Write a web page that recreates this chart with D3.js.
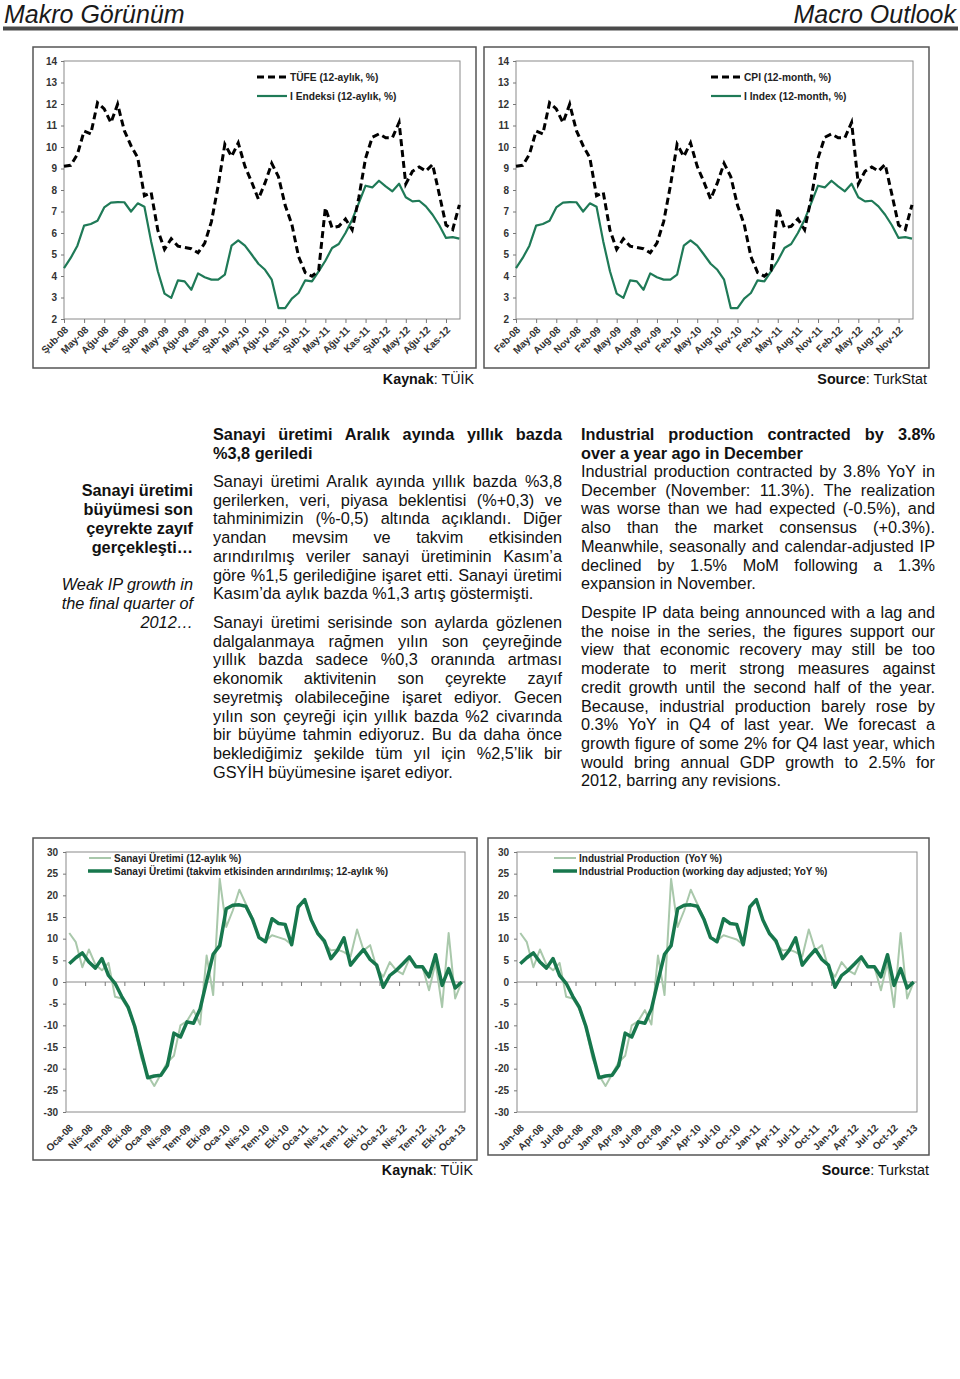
<!DOCTYPE html>
<html><head><meta charset="utf-8">
<script src="https://cdn.jsdelivr.net/npm/d3@7"></script>
<style>body{margin:0;background:#fff}svg{display:block}</style>
</head><body><svg id="c" width="960" height="1379"></svg>
<script>
// ---------- DATA ----------
// Top charts: monthly, Feb-08 .. Jan-13
const cpi = [9.10,9.15,9.66,10.74,10.61,12.06,11.77,11.13,11.99,10.76,10.06,
 9.50,7.73,7.89,6.13,5.24,5.73,5.39,5.33,5.27,5.08,5.53,6.53,
 8.19,10.13,9.56,10.19,9.10,8.37,7.58,8.33,9.24,8.62,7.29,6.40,
 4.90,4.16,3.99,4.26,7.17,6.24,6.31,6.65,6.15,7.66,9.48,10.45,
 10.61,10.43,10.43,11.14,8.28,8.87,9.07,8.88,9.19,7.80,6.37,6.16,
 7.31];
const coreI = [4.37,4.84,5.41,6.34,6.42,6.57,7.19,7.41,7.44,7.43,7.0,
 7.38,7.22,5.61,4.22,3.18,2.98,3.8,3.75,3.36,4.12,3.94,3.83,
 3.83,4.06,5.41,5.66,5.41,5.0,4.57,4.29,3.83,2.51,2.51,2.95,
 3.21,3.8,3.75,4.22,4.71,5.3,5.49,6.0,6.62,7.4,8.2,8.12,
 8.43,8.17,7.94,8.29,7.66,7.47,7.5,7.24,6.85,6.36,5.77,5.81,
 5.74];
const topYTicks = [2,3,4,5,6,7,8,9,10,11,12,13,14];
const trTopTicks = ["Şub-08","May-08","Ağu-08","Kas-08","Şub-09","May-09","Ağu-09","Kas-09","Şub-10","May-10","Ağu-10","Kas-10","Şub-11","May-11","Ağu-11","Kas-11","Şub-12","May-12","Ağu-12","Kas-12"];
const enTopTicks = ["Feb-08","May-08","Aug-08","Nov-08","Feb-09","May-09","Aug-09","Nov-09","Feb-10","May-10","Aug-10","Nov-10","Feb-11","May-11","Aug-11","Nov-11","Feb-12","May-12","Aug-12","Nov-12"];

// Bottom charts: monthly, Jan-08 .. Jan-13
const ipRaw = [11.3,9.2,3.4,7.5,4.0,2.7,4.4,-3.4,-3.8,-6.2,-10.5,-17.5,
 -21.5,-24.0,-21.3,-18.5,-17.0,-10.0,-9.0,-6.5,-9.8,6.1,-3.0,23.8,
 12.7,16.5,21.3,18.0,14.8,10.0,9.5,10.8,10.3,9.8,8.6,17.3,
 19.0,14.3,11.2,8.9,7.3,7.5,6.9,5.9,12.1,7.3,8.5,3.2,
 1.2,4.6,2.7,1.8,5.4,3.5,3.5,-1.9,4.5,-5.8,11.3,-3.8,
 0];
const ipAdj = [4.2,5.6,6.7,4.6,3.2,5.4,1.5,-0.3,-3.3,-5.8,-10.2,-16.2,
 -22.1,-21.7,-21.5,-19.3,-11.8,-12.7,-9.2,-9.5,-6.2,0.2,6.4,8.4,
 16.9,17.7,17.8,17.5,14.5,10.3,9.3,14.6,13.5,13.3,8.6,17.3,
 19.0,14.3,11.2,9.5,5.4,7.3,10.2,3.9,5.8,7.5,5.2,3.9,
 -1.2,1.5,2.7,4.2,5.8,3.5,3.5,1.2,6.3,-0.8,3.1,-1.4,
 0];
const botYTicks = [-30,-25,-20,-15,-10,-5,0,5,10,15,20,25,30];
const trBotTicks = ["Oca-08","Nis-08","Tem-08","Eki-08","Oca-09","Nis-09","Tem-09","Eki-09","Oca-10","Nis-10","Tem-10","Eki-10","Oca-11","Nis-11","Tem-11","Eki-11","Oca-12","Nis-12","Tem-12","Eki-12","Oca-13"];
const enBotTicks = ["Jan-08","Apr-08","Jul-08","Oct-08","Jan-09","Apr-09","Jul-09","Oct-09","Jan-10","Apr-10","Jul-10","Oct-10","Jan-11","Apr-11","Jul-11","Oct-11","Jan-12","Apr-12","Jul-12","Oct-12","Jan-13"];

// Texts
const sideTR = ["Sanayi üretimi","büyümesi son","çeyrekte zayıf","gerçekleşti…"];
const sideEN = ["Weak IP growth in","the final quarter of","2012…"];
const trHead = ["Sanayi üretimi Aralık ayında yıllık bazda","%3,8 geriledi"];
const trPara1 = ["Sanayi üretimi Aralık ayında yıllık bazda %3,8","gerilerken, veri, piyasa beklentisi (%+0,3) ve","tahminimizin (%-0,5) altında açıklandı. Diğer","yandan mevsim ve takvim etkisinden","arındırılmış veriler sanayi üretiminin Kasım’a","göre %1,5 gerilediğine işaret etti. Sanayi üretimi","Kasım’da aylık bazda %1,3 artış göstermişti."];
const trPara2 = ["Sanayi üretimi serisinde son aylarda gözlenen","dalgalanmaya rağmen yılın son çeyreğinde","yıllık bazda sadece %0,3 oranında artması","ekonomik aktivitenin son çeyrekte zayıf","seyretmiş olabileceğine işaret ediyor. Gecen","yılın son çeyreği için yıllık bazda %2 civarında","bir büyüme tahmin ediyoruz. Bu da daha önce","beklediğimiz şekilde tüm yıl için %2,5’lik bir","GSYİH büyümesine işaret ediyor."];
const enHead = ["Industrial production contracted by 3.8%","over a year ago in December"];
const enPara1 = ["Industrial production contracted by 3.8% YoY in","December (November: 11.3%). The realization","was worse than we had expected (-0.5%), and","also than the market consensus (+0.3%).","Meanwhile, seasonally and calendar-adjusted IP","declined by 1.5% MoM following a 1.3%","expansion in November."];
const enPara2 = ["Despite IP data being announced with a lag and","the noise in the series, the figures support our","view that economic recovery may still be too","moderate to merit strong measures against","credit growth until the second half of the year.","Because, industrial production barely rose by","0.3% YoY in Q4 of last year. We forecast a","growth figure of some 2% for Q4 last year, which","would bring annual GDP growth to 2.5% for","2012, barring any revisions."];

// ---------- DRAWING ----------
const FONT = "'Liberation Sans', Arial, Helvetica, sans-serif";
const svg = d3.select("#c").style("font-family", FONT);
svg.append("rect").attr("width",960).attr("height",1379).attr("fill","#fff");

// Header
svg.append("text").attr("x",4).attr("y",23).attr("font-size",25).attr("font-style","italic").attr("fill","#1a1a1a").text("Makro Görünüm");
svg.append("text").attr("x",956).attr("y",23).attr("text-anchor","end").attr("font-size",25).attr("font-style","italic").attr("fill","#1a1a1a").text("Macro Outlook");
svg.append("rect").attr("x",3).attr("y",26.5).attr("width",955).attr("height",4).attr("fill","#4a4a4a");

const DARK = "#17774d", LIGHT = "#a9c8ab", TOPGREEN = "#1f7a57";
const fmt = d => String(d);

function styleAxis(sel, size){
  sel.select(".domain").remove();
  sel.selectAll(".tick line").attr("stroke","#777");
  sel.selectAll(".tick text").attr("font-family",FONT).attr("font-size",size).attr("font-weight","bold").attr("fill","#333");
}

function topChart(o){
  const g = svg.append("g");
  g.append("rect").attr("x",o.box[0]).attr("y",o.box[1]).attr("width",o.box[2]-o.box[0]).attr("height",o.box[3]-o.box[1])
    .attr("fill","none").attr("stroke","#555").attr("stroke-width",1.5);
  const x = d3.scaleLinear().domain([0,cpi.length-1]).range([o.px0,o.px1]);
  const y = d3.scaleLinear().domain([2,14]).range([319,61]);
  g.append("rect").attr("x",o.px0).attr("y",61).attr("width",o.pr-o.px0).attr("height",258)
    .attr("fill","none").attr("stroke","#8a8a8a").attr("stroke-width",1);
  const ya = g.append("g").attr("transform",`translate(${o.px0},0)`)
    .call(d3.axisLeft(y).tickValues(topYTicks).tickSize(3).tickPadding(4).tickFormat(fmt));
  styleAxis(ya,10);
  const xa = g.append("g").attr("transform",`translate(0,319)`)
    .call(d3.axisBottom(x).tickValues(d3.range(0,cpi.length,3)).tickSize(4).tickFormat((d,i)=>o.labels[i]));
  styleAxis(xa,10);
  xa.selectAll(".tick text").attr("x",0).attr("y",0).attr("dy","0.35em").attr("text-anchor","end")
    .attr("transform","translate(2,9) rotate(-45)");
  const line = d3.line().x((d,i)=>x(i)).y(d=>y(d));
  g.append("path").datum(o.core).attr("d",line).attr("fill","none").attr("stroke",TOPGREEN).attr("stroke-width",2.2).attr("stroke-linejoin","round");
  g.append("path").datum(o.cpi).attr("d",line).attr("fill","none").attr("stroke","#000").attr("stroke-width",3).attr("stroke-dasharray","7,4");
  // legend
  g.append("line").attr("x1",o.lx).attr("x2",o.lx+29).attr("y1",77).attr("y2",77).attr("stroke","#000").attr("stroke-width",3).attr("stroke-dasharray","7,4");
  g.append("line").attr("x1",o.lx).attr("x2",o.lx+30).attr("y1",96).attr("y2",96).attr("stroke",TOPGREEN).attr("stroke-width",2.2);
  g.append("text").attr("x",o.lx+33).attr("y",80.5).attr("font-size",10.2).attr("font-weight","bold").attr("fill","#222").text(o.leg[0]);
  g.append("text").attr("x",o.lx+33).attr("y",99.5).attr("font-size",10.2).attr("font-weight","bold").attr("fill","#222").text(o.leg[1]);
  // source
  const s = g.append("text").attr("x",o.src[0]).attr("y",o.src[1]).attr("text-anchor","end").attr("font-size",14.3).attr("fill","#111");
  s.append("tspan").attr("font-weight","bold").text(o.srcLabel[0]);
  s.append("tspan").text(o.srcLabel[1]);
}

topChart({box:[33,47,476,368], px0:64, px1:459.4, pr:460, labels:trTopTicks, cpi:cpi, core:coreI,
  lx:257, leg:["TÜFE (12-aylık, %)","I Endeksi (12-aylık, %)"], src:[474,384], srcLabel:["Kaynak",": TÜİK"]});
topChart({box:[484,47,929,368], px0:516, px1:912, pr:913, labels:enTopTicks, cpi:cpi, core:coreI,
  lx:711, leg:["CPI (12-month, %)","I Index (12-month, %)"], src:[927,384], srcLabel:["Source",": TurkStat"]});

function botChart(o){
  const g = svg.append("g");
  g.append("rect").attr("x",o.box[0]).attr("y",o.box[1]).attr("width",o.box[2]-o.box[0]).attr("height",o.box[3]-o.box[1])
    .attr("fill","none").attr("stroke","#555").attr("stroke-width",1.5);
  const x = d3.scalePoint().domain(d3.range(ipAdj.length)).range([o.px0,o.px1]).padding(0.5);
  const step = x.step();
  const y = d3.scaleLinear().domain([-30,30]).range([1112,852]);
  g.append("rect").attr("x",o.px0).attr("y",852).attr("width",o.px1-o.px0).attr("height",260)
    .attr("fill","none").attr("stroke","#8a8a8a").attr("stroke-width",1);
  const ya = g.append("g").attr("transform",`translate(${o.px0},0)`)
    .call(d3.axisLeft(y).tickValues(botYTicks).tickSize(3).tickPadding(5).tickFormat(fmt));
  styleAxis(ya,10);
  // zero line with ticks at category boundaries
  g.append("line").attr("x1",o.px0).attr("x2",o.px1).attr("y1",y(0)).attr("y2",y(0)).attr("stroke","#8a8a8a");
  const bounds = d3.range(3, ipAdj.length, 3);
  g.selectAll(".zt").data(bounds).enter().append("line")
    .attr("x1",d=>x(d)-step/2).attr("x2",d=>x(d)-step/2).attr("y1",y(0)).attr("y2",y(0)+4).attr("stroke","#777");
  // labels at bottom
  const labIdx = d3.range(0, ipAdj.length, 3);
  g.selectAll(".xl").data(labIdx).enter().append("text")
    .attr("transform",d=>`translate(${x(d)+2},${1112+14}) rotate(-45)`)
    .attr("dy","0.35em").attr("text-anchor","end").attr("font-size",10).attr("font-weight","bold").attr("fill","#333")
    .text((d,i)=>o.labels[i]);
  const line = d3.line().x((d,i)=>x(i)).y(d=>y(d));
  g.append("path").datum(ipRaw).attr("d",line).attr("fill","none").attr("stroke",LIGHT).attr("stroke-width",2).attr("stroke-linejoin","round");
  g.append("path").datum(ipAdj).attr("d",line).attr("fill","none").attr("stroke",DARK).attr("stroke-width",3.5).attr("stroke-linejoin","round");
  // legend
  g.append("line").attr("x1",o.lx).attr("x2",o.lx+22).attr("y1",858).attr("y2",858).attr("stroke",LIGHT).attr("stroke-width",2);
  g.append("line").attr("x1",o.lx-1).attr("x2",o.lx+23).attr("y1",871).attr("y2",871).attr("stroke",DARK).attr("stroke-width",3.5);
  g.append("text").attr("x",o.lx+25).attr("y",861.5).attr("font-size",10).attr("font-weight","bold").attr("fill","#222").attr("xml:space","preserve").text(o.leg[0]);
  g.append("text").attr("x",o.lx+25).attr("y",874.5).attr("font-size",10).attr("font-weight","bold").attr("fill","#222").text(o.leg[1]);
  const s = g.append("text").attr("x",o.src[0]).attr("y",o.src[1]).attr("text-anchor","end").attr("font-size",14.3).attr("fill","#111");
  s.append("tspan").attr("font-weight","bold").text(o.srcLabel[0]);
  s.append("tspan").text(o.srcLabel[1]);
}
botChart({box:[33,838,477,1160], px0:66, px1:465, labels:trBotTicks, lx:89,
  leg:["Sanayi Üretimi (12-aylık %)","Sanayi Üretimi (takvim etkisinden arındırılmış; 12-aylık %)"], src:[473,1175], srcLabel:["Kaynak",": TÜİK"]});
botChart({box:[488,838,929,1155], px0:517, px1:917, labels:enBotTicks, lx:554,
  leg:["Industrial Production  (YoY %)","Industrial Production (working day adjusted; YoY %)"], src:[929,1175], srcLabel:["Source",": Turkstat"]});

// ---------- TEXT BLOCKS ----------
const FS = 16.3, LH = 18.7;
function textLine(x, yc, width, str, opts={}){
  const t = svg.append("text").attr("x", opts.anchor==="end" ? x+width : x).attr("y", yc+6)
    .attr("font-size", opts.size||FS).attr("fill","#111")
    .attr("font-weight", opts.bold ? "bold":"normal").attr("font-style", opts.italic ? "italic":"normal")
    .attr("text-anchor", opts.anchor==="end" ? "end":"start").text(str);
  if (opts.justify){
    const len = t.node().getComputedTextLength();
    const n = (str.match(/ /g)||[]).length;
    if (n>0) t.attr("word-spacing", (width-len)/n);
  }
}
function para(x, y0, width, lines, opts={}){
  lines.forEach((l,i)=>{
    textLine(x, y0+i*LH, width, l, Object.assign({}, opts, {justify: i<lines.length-1}));
  });
}
// sidebar
sideTR.forEach((l,i)=>textLine(60, 490+i*19, 133, l, {bold:true, anchor:"end"}));
sideEN.forEach((l,i)=>textLine(60, 584+i*19, 133, l, {italic:true, anchor:"end"}));
// Turkish column
para(213, 434, 349, trHead, {bold:true});
para(213, 481, 349, trPara1);
para(213, 622, 349, trPara2);
// English column
para(581, 434, 354, enHead, {bold:true});
para(581, 471, 354, enPara1);
para(581, 612, 354, enPara2);
</script></body></html>
